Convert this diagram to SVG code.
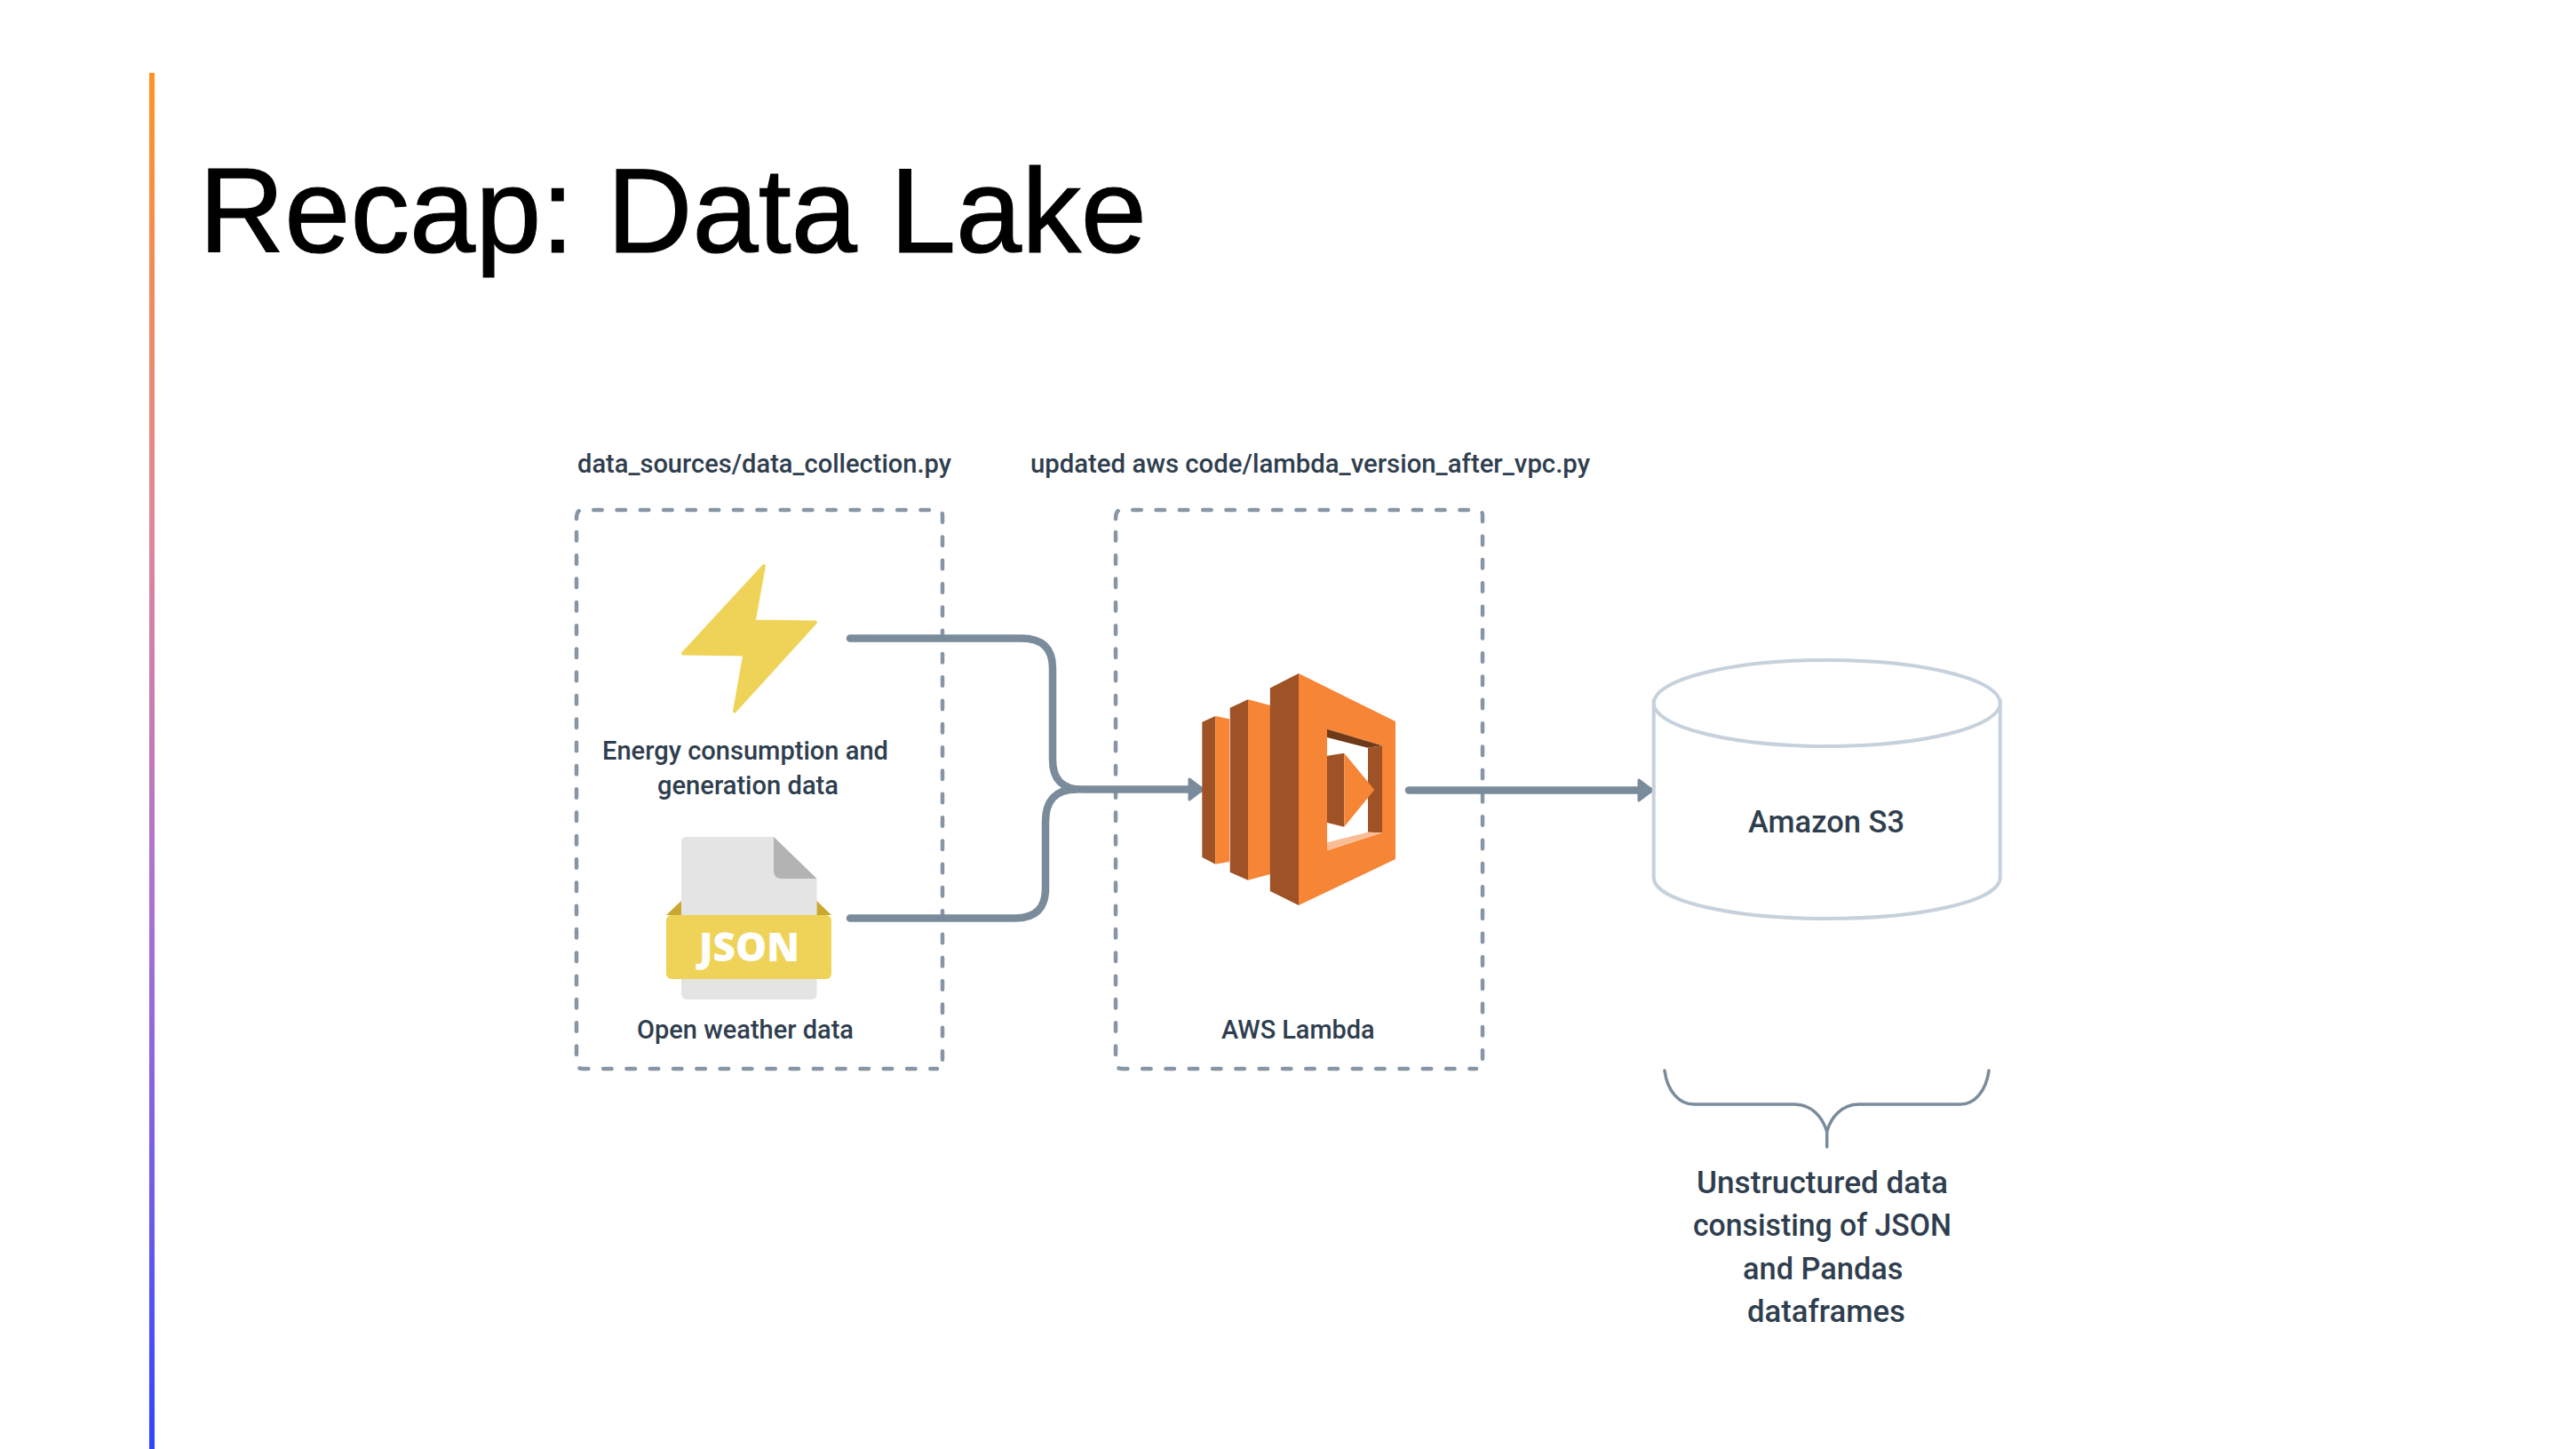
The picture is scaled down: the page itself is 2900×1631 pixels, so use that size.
<svg xmlns="http://www.w3.org/2000/svg" width="2900" height="1631" viewBox="0 0 2900 1631">
<style>
text{font-family:"Roboto","Liberation Sans",sans-serif;font-weight:500;fill:#2F3E4E;font-size:29.5px;text-anchor:start}
.t{font-size:35px}
.box{fill:none;stroke:#8795A5;stroke-width:4.5;stroke-linecap:round;stroke-dasharray:9.5 16.8}
.c{fill:none;stroke:#7A8B9B;stroke-width:8.5;stroke-linecap:round}
.cyl{fill:#fff;stroke:#C6D1DC;stroke-width:4}
.dk{fill:#9E5225}.or{fill:#F68536}
</style>
<defs>
<linearGradient id="bar" x1="0" y1="0" x2="0" y2="1">
<stop offset="0" stop-color="#FF9222"/><stop offset="0.33" stop-color="#E2869A"/><stop offset="0.6" stop-color="#AC72D0"/><stop offset="0.82" stop-color="#6F5CEC"/><stop offset="1" stop-color="#2E44FF"/>
</linearGradient>
<marker id="arr" markerUnits="userSpaceOnUse" markerWidth="20" markerHeight="30" refX="13" refY="13.5" orient="auto" overflow="visible">
<path d="M2 2L17 13.5L2 25Z" fill="#7A8B9B" stroke="#7A8B9B" stroke-width="3" stroke-linejoin="round"/>
</marker>
</defs>
<rect width="2900" height="1631" fill="#fff"/>
<g id="slide-accent"><rect x="168" y="82" width="6" height="1549" fill="url(#bar)"/></g>
<g id="title"><text x="224" y="284" textLength="1067" lengthAdjust="spacingAndGlyphs" style="font-family:'Liberation Sans',sans-serif;font-weight:400;font-size:135px;fill:#000;stroke:#000;stroke-width:1.2">Recap: Data Lake</text></g>

<g id="sources-box">
<path class="box" d="M649 584Q649 574 655 574H1055Q1061 574 1061 580V1203"/>
<path class="box" d="M649 599V1196Q649 1203 656 1203H1055"/>
<text x="650" y="531.5" textLength="421" lengthAdjust="spacingAndGlyphs">data_sources/data_collection.py</text></g>
<g id="lambda-box">
<path class="box" d="M1256 584Q1256 574 1262 574H1662Q1669 574 1669 580V1203"/>
<path class="box" d="M1256 599V1196Q1256 1203 1263 1203H1662"/>
<text x="1160" y="531.5" textLength="630" lengthAdjust="spacingAndGlyphs">updated aws code/lambda_version_after_vpc.py</text></g>

<g id="connectors">
<path class="c" d="M957 718.5H1150Q1185 718.5 1185 752V855Q1185 888.5 1218 888.5H1350" marker-end="url(#arr)"/>
<path class="c" d="M957 1033.5H1143Q1177 1033.5 1177 1000V925Q1177 888.5 1212 888.5"/>
<path class="c" d="M1586 889.5H1856" marker-end="url(#arr)"/>
</g>

<g id="energy">
<polygon points="860,637 848.6,699.5 918,700.5 827,800.5 838.4,736.5 769,735.5" fill="#EFD358" stroke="#EFD358" stroke-width="4" stroke-linejoin="round"/>
<text x="678" y="854.5" textLength="322" lengthAdjust="spacingAndGlyphs">Energy consumption and</text>
<text x="740" y="894" textLength="204" lengthAdjust="spacingAndGlyphs">generation data</text>
</g>

<g id="json">
<path d="M773 942H871L919.5 989V1118Q919.5 1125 913 1125H773Q767 1125 767 1118V948Q767 942 773 942Z" fill="#E4E4E4"/>
<path d="M871 942L919.5 989H880Q871 989 871 980Z" fill="#B3B3B3"/>
<path d="M750 1030L767 1014V1030ZM919.5 1014L936 1030H919.5Z" fill="#C9A830"/>
<rect x="750" y="1030" width="186" height="72" rx="6" fill="#EFD358"/>
<text x="787" y="1082" textLength="113" lengthAdjust="spacingAndGlyphs" style="font-family:'Open Sans',sans-serif;font-weight:800;font-size:44px;fill:#fff">JSON</text>
<text x="717" y="1169" textLength="244" lengthAdjust="spacingAndGlyphs">Open weather data</text>
</g>

<g id="lambda">
<polygon class="dk" points="1353.3,812.7 1368.3,806 1368.3,972.7 1353.3,965"/>
<polygon class="or" points="1368.3,806 1384,809.3 1384,970 1368.3,972.7"/>
<polygon class="dk" points="1384.7,796.7 1405,787.3 1405,990.7 1384.7,981.7"/>
<polygon class="or" points="1405,787.3 1430,794 1430,984 1405,990.7"/>
<polygon class="dk" points="1429.8,774.4 1462,758 1462,1019 1429.8,1003"/>
<polygon class="or" points="1462,758 1571,812 1571,967 1462,1019"/>
<polygon fill="#fff" points="1494,820.7 1556,839.3 1556,937.3 1494,957.3"/>
<polygon fill="#6E3A18" points="1494,820.7 1556,839.3 1540,841.7 1494,830"/>
<polygon class="dk" points="1540,841.7 1556,839.3 1556,937.3 1540,936.7"/>
<polygon fill="#F9BD96" points="1494,948.3 1540,936.7 1556,937.3 1494,957.3"/>
<polygon class="dk" points="1494,850.7 1513.3,847.7 1513.3,930.7 1494,926"/>
<polygon class="or" points="1513.3,847.7 1547.3,889 1513.3,930.7"/>
<text x="1375" y="1169" textLength="172.5" lengthAdjust="spacingAndGlyphs">AWS Lambda</text>
</g>

<g id="s3">
<path class="cyl" d="M1861.7 789V988C1861.7 1014 1950 1034 2056.7 1034S2251.7 1014 2251.7 988V789Z"/>
<ellipse class="cyl" cx="2056.7" cy="791.5" rx="195" ry="48.5"/>
<text class="t" x="1968" y="937" textLength="176" lengthAdjust="spacingAndGlyphs">Amazon S3</text>
</g>

<g id="brace-note">
<path d="M1874 1205C1877 1228 1890 1243 1907 1243H2020C2040 1243 2052 1258 2056.7 1274C2061 1258 2073 1243 2093 1243H2207C2223 1243 2236 1228 2239 1205M2056.7 1274V1291" fill="none" stroke="#7A8B9B" stroke-width="3.5" stroke-linecap="round"/>
<text class="t" x="1910" y="1342.5" textLength="283" lengthAdjust="spacingAndGlyphs">Unstructured data</text>
<text class="t" x="1906" y="1391" textLength="291" lengthAdjust="spacingAndGlyphs">consisting of JSON</text>
<text class="t" x="1962" y="1439.5" textLength="180.5" lengthAdjust="spacingAndGlyphs">and Pandas</text>
<text class="t" x="1967" y="1488" textLength="178" lengthAdjust="spacingAndGlyphs">dataframes</text>
</g>
</svg>
